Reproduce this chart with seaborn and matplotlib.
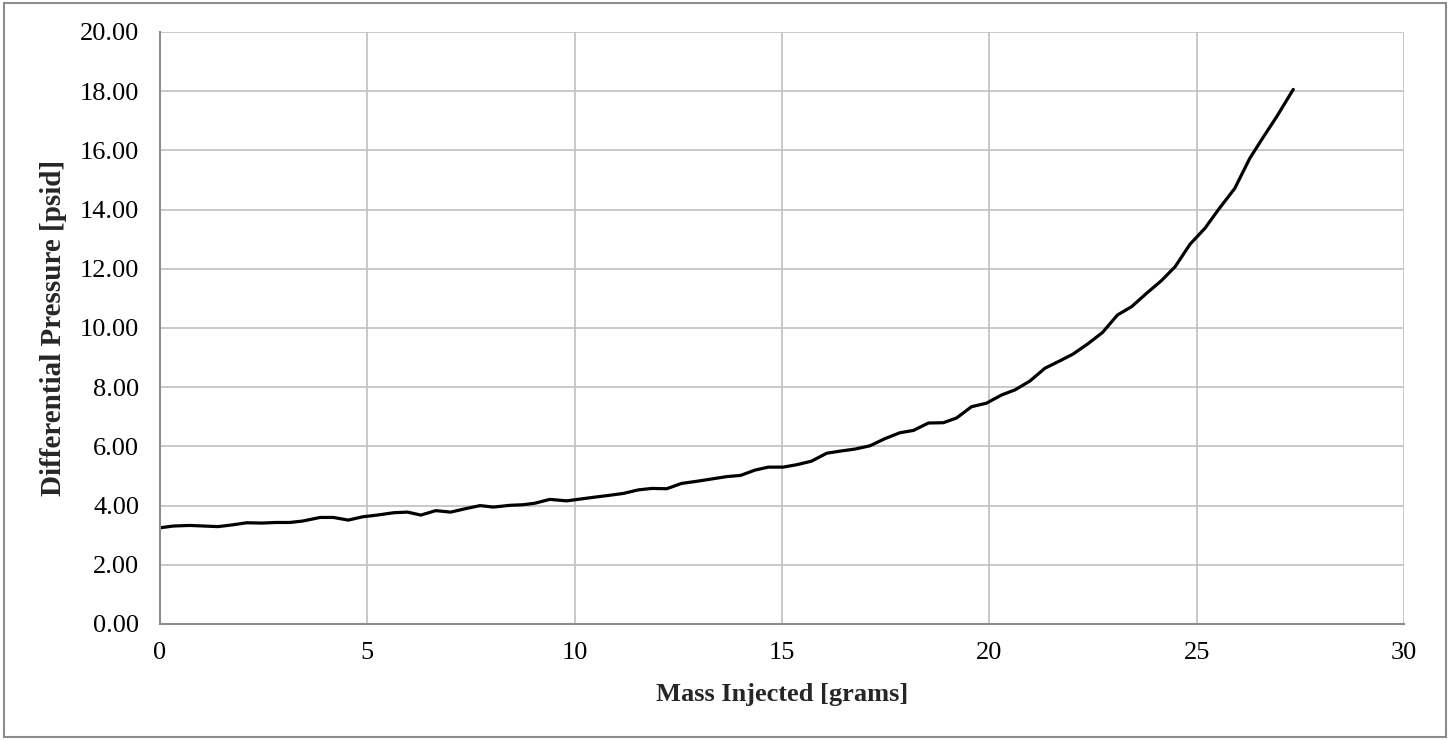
import matplotlib
matplotlib.use("Agg")
import matplotlib.pyplot as plt
from matplotlib.patches import Rectangle
import seaborn as sns
import pandas as pd

# Mass injected [g] and measured differential pressure [psid]
mass_g = [0.00, 0.32, 0.72, 1.05, 1.40, 1.75, 2.09, 2.45, 2.80, 3.13,
          3.45, 3.86, 4.18, 4.54, 4.88, 5.24, 5.64, 5.97, 6.29, 6.65,
          7.01, 7.38, 7.72, 8.04, 8.44, 8.76, 9.04, 9.40, 9.81, 10.13,
          10.45, 10.85, 11.17, 11.53, 11.86, 12.22, 12.58, 12.94, 13.26, 13.67,
          14.00, 14.35, 14.67, 15.03, 15.35, 15.71, 16.08, 16.40, 16.76, 17.12,
          17.48, 17.84, 18.17, 18.53, 18.89, 19.21, 19.57, 19.93, 20.30, 20.62,
          20.98, 21.34, 21.70, 22.02, 22.38, 22.73, 23.09, 23.43, 23.79, 24.15,
          24.48, 24.84, 25.20, 25.52, 25.92, 26.28, 26.57, 26.93, 27.33]
dp_psid = [3.25, 3.31, 3.33, 3.31, 3.29, 3.35, 3.42, 3.41, 3.43, 3.43,
           3.48, 3.60, 3.60, 3.51, 3.62, 3.68, 3.76, 3.78, 3.68, 3.83,
           3.78, 3.90, 4.00, 3.95, 4.01, 4.03, 4.08, 4.21, 4.16, 4.22,
           4.28, 4.35, 4.41, 4.53, 4.58, 4.57, 4.75, 4.82, 4.89, 4.98,
           5.02, 5.20, 5.30, 5.30, 5.38, 5.50, 5.77, 5.84, 5.91, 6.02,
           6.26, 6.46, 6.54, 6.79, 6.80, 6.96, 7.34, 7.46, 7.74, 7.91,
           8.21, 8.64, 8.89, 9.12, 9.47, 9.85, 10.44, 10.72, 11.17, 11.60,
           12.07, 12.83, 13.37, 13.99, 14.72, 15.73, 16.37, 17.14, 18.06]

x_ticks = [0, 5, 10, 15, 20, 25, 30]
y_ticks = [0, 2, 4, 6, 8, 10, 12, 14, 16, 18, 20]
x_label = "Mass Injected [grams]"
y_label = "Differential Pressure [psid]"

df = pd.DataFrame({"mass": mass_g, "dp": dp_psid})

sns.set_style("white")
plt.rcParams["font.family"] = ["Liberation Serif", "DejaVu Serif"]

fig = plt.figure(figsize=(14.53, 7.40), dpi=100)
ax = fig.add_axes([160 / 1453, 1 - 624 / 740, (1404 - 160) / 1453, (624 - 32) / 740])

sns.lineplot(data=df, x="mass", y="dp", ax=ax, color="black",
             linewidth=2.3, estimator=None, sort=False)

ax.set_xlim(0, 30)
ax.set_ylim(0, 20)
ax.set_xticks(x_ticks)
ax.set_xticklabels([str(t) for t in x_ticks])
ax.set_yticks(y_ticks)
ax.set_yticklabels([f"{t:.2f}" for t in y_ticks])

ax.grid(True, color="#c4c4c4", linewidth=1.3)
ax.set_axisbelow(True)
for side in ("top", "right"):
    ax.spines[side].set_visible(False)
for side in ("left", "bottom"):
    ax.spines[side].set_color("#8c8c8c")
    ax.spines[side].set_linewidth(1.5)

ax.tick_params(axis="both", which="major", direction="out", length=6,
               width=1.3, color="#8c8c8c", labelsize=19, labelcolor="black")
ax.tick_params(axis="x", pad=7)
ax.tick_params(axis="y", pad=9)

ax.set_xlabel(x_label, fontsize=19, fontweight="bold", labelpad=14)
ax.set_ylabel(y_label, fontsize=21, fontweight="bold", labelpad=9)

fig.patches.append(Rectangle((4 / 1453, 3 / 740), 1442 / 1453, 734 / 740,
                             transform=fig.transFigure, fill=False,
                             edgecolor="#8c8c8c", linewidth=1.5))

fig.savefig("out.png", dpi=100, facecolor="white")
